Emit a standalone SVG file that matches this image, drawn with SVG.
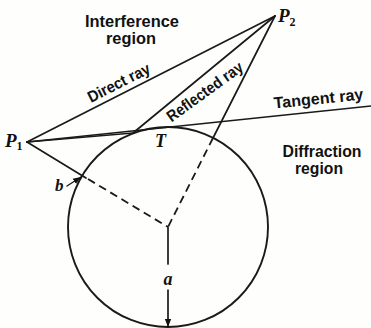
<svg xmlns="http://www.w3.org/2000/svg" width="371" height="328" viewBox="0 0 371 328">
<defs>
<style>
.ln{stroke:#1a1a1a;stroke-width:1.7;fill:none;stroke-linecap:round}
.ds{stroke:#1a1a1a;stroke-width:1.8;fill:none;stroke-dasharray:8 5}
.lb{font-family:"Liberation Sans",Arial,sans-serif;font-weight:bold;font-size:16px;fill:#111;text-anchor:middle}
.it{font-family:"Liberation Serif","Times New Roman",serif;font-style:italic;font-weight:bold;font-size:19px;fill:#111}
.sub{font-size:12px;font-style:normal}
</style>
<marker id="ah" viewBox="0 0 10 10" refX="10" refY="5" markerWidth="8" markerHeight="8" markerUnits="userSpaceOnUse" orient="auto">
<path d="M0,1 L10,5 L0,9 Z" fill="#111"/>
</marker>
</defs>
<rect width="371" height="328" fill="#fefefc"/>
<g id="earth">
<circle cx="168" cy="227" r="100" class="ln" style="stroke-width:1.9"/>
</g>
<g id="connectors">
<line id="direct" x1="27" y1="142" x2="275" y2="16" class="ln"/>
<line id="incident" x1="27" y1="142" x2="133" y2="133" class="ln"/>
<line id="reflected" x1="133" y1="133" x2="275" y2="16" class="ln"/>
<line id="tangent" x1="27" y1="142" x2="371" y2="106" class="ln"/>
<line id="h1" x1="27" y1="142" x2="86" y2="178" class="ln"/>
<line id="h1d" x1="88" y1="179" x2="168" y2="227" class="ds"/>
<line id="h2" x1="275" y1="16" x2="213" y2="138" class="ln"/>
<line id="h2d" x1="213" y1="138" x2="168" y2="227" class="ds"/>
<line id="a1" x1="168" y1="227" x2="168" y2="264" class="ln"/>
<line id="a2" x1="168" y1="290" x2="168" y2="327" class="ln" marker-end="url(#ah)"/>
<line id="barrow" x1="67" y1="186" x2="81" y2="177" class="ln" marker-end="url(#ah)" style="stroke-width:1.4"/>
</g>
<g id="labels">
<text class="lb" x="132" y="27" textLength="94" lengthAdjust="spacingAndGlyphs">Interference</text>
<text class="lb" x="131" y="44" textLength="50" lengthAdjust="spacingAndGlyphs">region</text>
<text class="lb" transform="translate(124,93) rotate(-26.9)" x="0" y="-6" textLength="68" lengthAdjust="spacingAndGlyphs">Direct ray</text>
<text class="lb" transform="translate(205,92) rotate(-36)" x="0" y="5" textLength="90" lengthAdjust="spacingAndGlyphs">Reflected ray</text>
<text class="lb" transform="translate(319,104) rotate(-5.8)" x="0" y="0" textLength="90" lengthAdjust="spacingAndGlyphs">Tangent ray</text>
<text class="lb" x="322" y="157" textLength="79" lengthAdjust="spacingAndGlyphs">Diffraction</text>
<text class="lb" x="319" y="174" textLength="48" lengthAdjust="spacingAndGlyphs">region</text>
<text class="it" x="5" y="147">P<tspan class="sub" dy="3">1</tspan></text>
<text class="it" x="278" y="22">P<tspan class="sub" dy="4">2</tspan></text>
<text class="it" x="155" y="147" style="font-size:18px">T</text>
<text class="it" x="55" y="191" style="font-size:17px">b</text>
<text class="it" x="168" y="285" text-anchor="middle" style="font-size:18px">a</text>
</g>
</svg>
